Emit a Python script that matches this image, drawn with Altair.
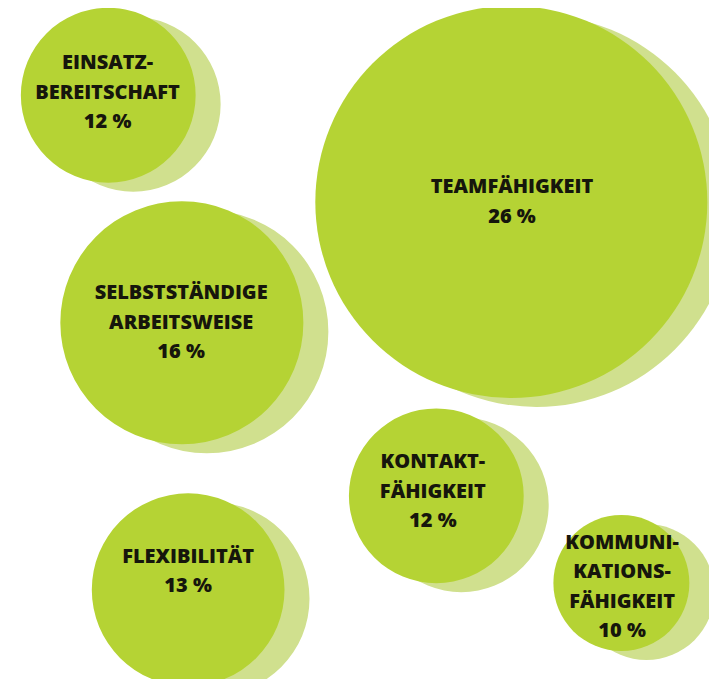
import altair as alt
import pandas as pd

# --- data -------------------------------------------------------------
names = [
    "Einsatz-\nbereitschaft",
    "Teamfähigkeit",
    "Selbstständige\nArbeitsweise",
    "Kontakt-\nfähigkeit",
    "Kommuni-\nkations-\nfähigkeit",
    "Flexibilität",
]
percent = [12, 26, 16, 12, 10, 13]

# bubble layout (abstract layout units, 0..100 across and down)
bubble_x = [14.3, 71.8, 24.8, 61.1, 87.5, 25.7]
bubble_y = [13.0, 28.9, 46.9, 72.7, 85.7, 86.7]
# anchor of each label's first line
label_x = [14.2, 71.9, 24.7, 60.6, 87.6, 25.7]
label_y = [8.2, 26.7, 42.5, 67.7, 79.7, 81.8]

df = pd.DataFrame({
    "name": names,
    "pct": percent,
    "bx": bubble_x,
    "by": bubble_y,
    "lx": label_x,
    "ly": label_y,
})
df["label"] = [n.upper() + f"\n{p} %" for n, p in zip(names, percent)]

W, H = 701, 671
xs = alt.Scale(domain=[0, 100], nice=False, zero=False)
ys = alt.Scale(domain=[0, 100], nice=False, zero=False, reverse=True)
size_scale = alt.Scale(type="pow", exponent=1.7, domain=[10, 26],
                       range=[18496, 153664], zero=False)

base = alt.Chart(df)

shadow = base.mark_circle(opacity=1, color="#d0e08e", xOffset=25, yOffset=9).encode(
    x=alt.X("bx:Q", scale=xs, axis=None),
    y=alt.Y("by:Q", scale=ys, axis=None),
    size=alt.Size("pct:Q", scale=size_scale, legend=None),
)

main = base.mark_circle(opacity=1, color="#b5d334").encode(
    x=alt.X("bx:Q", scale=xs, axis=None),
    y=alt.Y("by:Q", scale=ys, axis=None),
    size=alt.Size("pct:Q", scale=size_scale, legend=None),
)

text = base.mark_text(
    lineBreak="\n", lineHeight=29.5, font="Open Sans", fontWeight=800,
    fontSize=20, color="#16160c", align="center", baseline="middle",
).encode(
    x=alt.X("lx:Q", scale=xs, axis=None),
    y=alt.Y("ly:Q", scale=ys, axis=None),
    text="label:N",
)

chart = alt.layer(shadow, main, text).properties(
    width=W, height=H, padding=0, autosize=alt.AutoSizeParams(type="none"),
    background="white",
).configure_view(stroke=None)

chart.save("out.html", embed_options={"renderer": "svg", "actions": False})
